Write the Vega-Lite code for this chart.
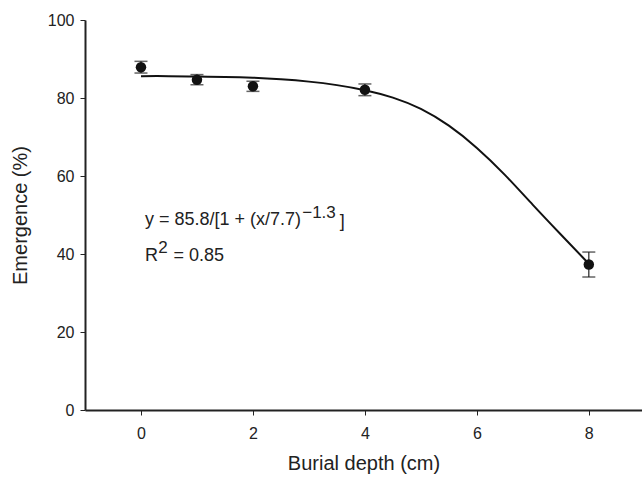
{
  "$schema": "https://vega.github.io/schema/vega-lite/v6.json",
  "width": 557,
  "height": 390,
  "autosize": {"type": "none"},
  "padding": {"left": 85, "top": 20, "right": 0, "bottom": 67},
  "background": "white",
  "config": {
    "view": {"stroke": null},
    "font": "Liberation Sans",
    "axis": {
      "domainColor": "#222",
      "domainWidth": 2,
      "tickColor": "#222",
      "tickWidth": 1,
      "tickSize": 5,
      "grid": false,
      "labelFont": "Liberation Sans",
      "labelFontSize": 16,
      "labelColor": "#222",
      "titleFont": "Liberation Sans",
      "titleFontSize": 20,
      "titleFontWeight": "normal",
      "titleColor": "#222"
    }
  },
  "datasets": {
    "pts": [
      {"depth": 0, "emergence": 87.9, "lo": 86.4, "hi": 89.4},
      {"depth": 1, "emergence": 84.7, "lo": 83.4, "hi": 86.0},
      {"depth": 2, "emergence": 83.0, "lo": 81.7, "hi": 84.3},
      {"depth": 4, "emergence": 82.1, "lo": 80.6, "hi": 83.6},
      {"depth": 8, "emergence": 37.3, "lo": 34.1, "hi": 40.5}
    ],
    "fit": [
      {"depth": 0, "emergence": 85.6},
      {"depth": 0.5, "emergence": 85.6},
      {"depth": 1, "emergence": 85.5},
      {"depth": 1.5, "emergence": 85.4},
      {"depth": 2, "emergence": 85.2},
      {"depth": 2.5, "emergence": 84.8},
      {"depth": 3, "emergence": 84.2},
      {"depth": 3.5, "emergence": 83.3},
      {"depth": 4, "emergence": 82.0},
      {"depth": 4.5, "emergence": 80.1},
      {"depth": 5, "emergence": 77.2},
      {"depth": 5.5, "emergence": 72.9},
      {"depth": 6, "emergence": 67.2},
      {"depth": 6.5, "emergence": 60.3},
      {"depth": 7, "emergence": 52.6},
      {"depth": 7.5, "emergence": 45.0},
      {"depth": 8, "emergence": 37.5}
    ]
  },
  "layer": [
    {
      "mark": {"type": "rule", "color": "#222", "strokeWidth": 2},
      "encoding": {"y": {"datum": 100}}
    },
    {
      "data": {"name": "fit"},
      "mark": {"type": "line", "color": "#111", "strokeWidth": 2, "interpolate": "natural"},
      "encoding": {
        "x": {
          "field": "depth", "type": "quantitative",
          "scale": {"domain": [-1, 8.95], "nice": false, "zero": false},
          "axis": {"values": [0, 2, 4, 6, 8], "title": "Burial depth (cm)", "labelPadding": 10, "titlePadding": 12}
        },
        "y": {
          "field": "emergence", "type": "quantitative",
          "scale": {"domain": [0, 100], "nice": false},
          "axis": {"values": [0, 20, 40, 60, 80, 100], "title": "Emergence (%)", "labelPadding": 6, "titlePadding": 17}
        }
      }
    },
    {
      "data": {"name": "pts"},
      "mark": {"type": "rule", "color": "#222", "strokeWidth": 1.2},
      "encoding": {
        "x": {"field": "depth", "type": "quantitative"},
        "y": {"field": "lo", "type": "quantitative"},
        "y2": {"field": "hi"}
      }
    },
    {
      "data": {"name": "pts"},
      "mark": {"type": "tick", "orient": "horizontal", "color": "#222", "size": 13, "thickness": 1.5},
      "encoding": {
        "x": {"field": "depth", "type": "quantitative"},
        "y": {"field": "lo", "type": "quantitative"}
      }
    },
    {
      "data": {"name": "pts"},
      "mark": {"type": "tick", "orient": "horizontal", "color": "#222", "size": 13, "thickness": 1.5},
      "encoding": {
        "x": {"field": "depth", "type": "quantitative"},
        "y": {"field": "hi", "type": "quantitative"}
      }
    },
    {
      "data": {"name": "pts"},
      "mark": {"type": "point", "filled": true, "color": "#111", "opacity": 1, "size": 110},
      "encoding": {
        "x": {"field": "depth", "type": "quantitative"},
        "y": {"field": "emergence", "type": "quantitative"}
      }
    },
    {
      "data": {"values": [
        {"tx": 0.07, "ty": 48.6, "label": "y = 85.8/[1 + (x/7.7)", "fs": 18},
        {"tx": 2.88, "ty": 50.5, "label": "−1.3", "fs": 17},
        {"tx": 3.55, "ty": 48.2, "label": "]", "fs": 18},
        {"tx": 0.07, "ty": 39.6, "label": "R", "fs": 18},
        {"tx": 0.31, "ty": 41.5, "label": "2", "fs": 17},
        {"tx": 0.58, "ty": 39.6, "label": "= 0.85", "fs": 18}
      ]},
      "mark": {"type": "text", "align": "left", "baseline": "middle", "font": "Liberation Sans", "color": "#222"},
      "encoding": {
        "x": {"field": "tx", "type": "quantitative"},
        "y": {"field": "ty", "type": "quantitative"},
        "text": {"field": "label"},
        "size": {"field": "fs", "type": "quantitative", "scale": null, "legend": null}
      }
    }
  ]
}
